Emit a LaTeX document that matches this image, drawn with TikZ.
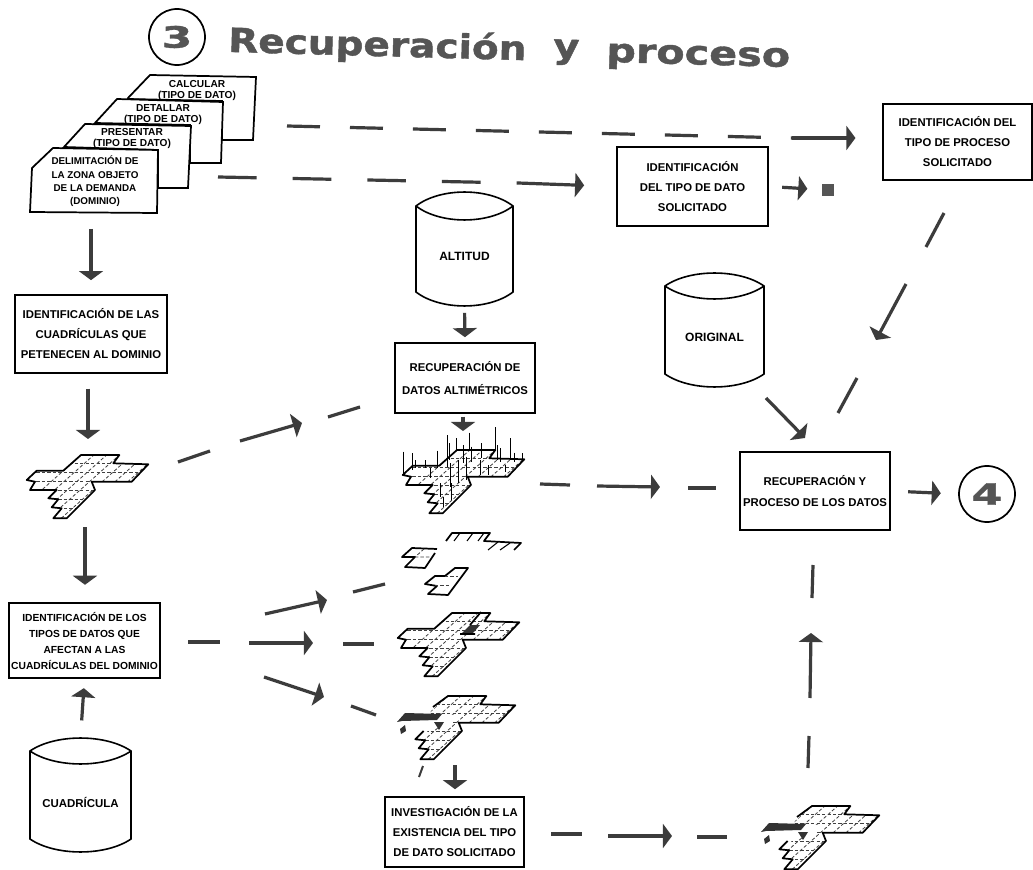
\documentclass[tikz,border=0pt]{standalone}
\usepackage{fontspec}
\setmainfont{Liberation Sans}
\newfontfamily\titlefont{DejaVu Sans}
\usetikzlibrary{arrows.meta,calc}
\def\px{0.75pt}
\definecolor{ink}{HTML}{3C3C3C}
\definecolor{titleink}{HTML}{555555}
\tikzset{
  arr/.style={line width=2.4pt,color=ink,-{Triangle[length=6.8pt,width=18pt]}},
  dashseg/.style={line width=2.4pt,color=ink},
  bx/.style={draw=black,line width=1.3pt,fill=white,inner sep=0pt,align=center,font={\fontsize{8.5}{15}\selectfont\bfseries}},
  cardshape/.style={draw=black,line width=1.3pt,fill=white},
  cardtext/.style={inner sep=0pt,align=center},
  cyl/.style={draw=black,line width=1.2pt,fill=white},
  cyltext/.style={inner sep=0pt,font={\fontsize{9}{10}\selectfont\bfseries}},
  gridline/.style={draw=black,line width=1.3pt,line join=round},
  gridin/.style={draw=black!75,line width=.6pt,dash pattern=on 2.5pt off 1.6pt},
  title/.style={inner sep=0pt,text=titleink,rotate=-1.6,font={\titlefont\bfseries\fontsize{25}{30}\selectfont\addfontfeatures{FakeBold=1.2}}},
  numc/.style={circle,draw=black,line width=1.3pt,minimum size=42pt,inner sep=0pt,text=titleink,font={\titlefont\bfseries\fontsize{22}{26}\selectfont\addfontfeatures{FakeBold=1.2}}}
}
\newcommand\boxnode[7][]{\node[bx,minimum width={(#5-#3)*\px},minimum height={(#6-#4)*\px},#1] (#2) at ({(#3+#5)/2},{(#4+#6)/2}) {#7};}
% cylinder: name, xl, xr, ytopcorner, bulge, ybottomcorner, label
\newcommand\cylnode[7]{%
 \draw[cyl] (#2,#4) .. controls ({#2+(#3-#2)*.25},{#4-(#5)*1.33}) and ({#3-(#3-#2)*.25},{#4-(#5)*1.33}) .. (#3,#4) -- (#3,#6) .. controls ({#3-(#3-#2)*.25},{#6+(#5)*1.33}) and ({#2+(#3-#2)*.25},{#6+(#5)*1.33}) .. (#2,#6) -- cycle;
 \draw[cyl,fill=none] (#2,#4) .. controls ({#2+(#3-#2)*.25},{#4+(#5)*1.33}) and ({#3-(#3-#2)*.25},{#4+(#5)*1.33}) .. (#3,#4);
 \node[cyltext,minimum width={(#3-#2)*\px},minimum height={(#6-#4+2*(#5))*\px}] (#1) at ({(#2+#3)/2},{(#4+#6)/2}) {\raisebox{-9pt}[0pt][0pt]{#7}};}
\def\outlinepts{(53.3,118.3) -- (61.7,108.3) -- (51.7,107.3) -- (58.3,99.3) -- (48.3,98.3) -- (56.7,90) -- (30,90) -- (35,81.7) -- (26.7,80) -- (36.7,70.7) -- (63.3,70.7) -- (81,55) -- (119.3,55) -- (113.3,63.3) -- (148.3,64.3) -- (131.7,81.7) -- (91.7,81.7) -- (95,90) -- (76.7,108.3) -- (66.7,118.3) -- cycle}
\newcommand\gridinner{%
 \begin{scope}
  \clip \outlinepts;
  \foreach \k in {0,...,13} {\draw[gridin] ({10+12.8*\k},118.3) -- ({81+12.8*\k},55);}
  \foreach \yy in {63.5,72,81.7,90,99,108} {\draw[gridin] (20,\yy) -- (150,\yy);}
 \end{scope}}
\newcommand\gridplain[3]{\begin{scope}[shift={(#1,#2)}]\gridinner\draw[gridline] \outlinepts;\node[inner sep=0pt,minimum width=90pt,minimum height=48pt] (#3) at (88,87) {};\end{scope}}
\newcommand\griddamaged[3]{\begin{scope}[shift={(#1,#2)}]
 \gridinner
 \fill[white] (22,68) -- (64,68) -- (60,92) -- (22,92) -- cycle;
 \fill[white] (62,74) -- (88,74) -- (84,86) -- (58,86) -- cycle;
 \draw[gridline] (66,66) -- (81,55) -- (119.3,55) -- (113.3,63.3) -- (148.3,64.3) -- (131.7,81.7) -- (91.7,81.7) -- (95,90) -- (76.7,108.3) -- (66.7,118.3) -- (53.3,118.3) -- (61.7,108.3) -- (51.7,107.3) -- (58.3,99.3) -- (48.3,98.3) -- (56.7,90);
 \fill[black!80] (30,81) -- (38,72) -- (75,73) -- (70,79) -- (35,80) -- cycle;
 \fill[black!80] (33,88) -- (38,84) -- (39,90) -- (34,93) -- cycle;
 \fill[black!80] (67,81) -- (77,81) -- (72,89) -- cycle;
 \node[inner sep=0pt,minimum width=90pt,minimum height=48pt] (#3) at (88,87) {};
 \end{scope}}
\begin{document}
\begin{tikzpicture}[x=\px,y=-\px]
\useasboundingbox[fill=white] (0,0) rectangle (1033,870);
% title
\node[numc] (three) at (177,37) {\scalebox{1.5}[1]{3}};
\node[title,anchor=west] (t1) at (228,42) {\scalebox{1.17}[1]{Recuperación}};
\node[title,anchor=west] (t2) at (553,52) {\scalebox{1.2}[1]{y}};
\node[title,anchor=west] (t3) at (606,56) {\scalebox{1.24}[1]{proceso}};
% stack of cards
\draw[cardshape] (128,98) -- (150,75) -- (256,77) -- (253,140) -- (222,140) -- (222,101) -- (128,99) -- cycle;
\node[cardtext,font={\fontsize{7.6}{8.2}\selectfont\bfseries}] (cardA) at (197,90.5) {CALCULAR\\(TIPO DE DATO)};
\draw[cardshape] (95,123) -- (117,99) -- (223,102) -- (221,163) -- (190,163) -- (190,125) -- (95,123) -- cycle;
\node[cardtext,font={\fontsize{7.6}{8.2}\selectfont\bfseries}] (cardB) at (163,114.5) {DETALLAR\\(TIPO DE DATO)};
\draw[cardshape] (64,147) -- (85,124) -- (191,126) -- (188,188) -- (158,188) -- (158,150) -- (64,147) -- cycle;
\node[cardtext,font={\fontsize{7.6}{8.2}\selectfont\bfseries}] (cardC) at (132,138.5) {PRESENTAR\\(TIPO DE DATO)};
\draw[cardshape] (30,212) -- (32,168) -- (53,148) -- (158,150) -- (157,213) -- cycle;
\node[cardtext,font={\fontsize{7.4}{10}\selectfont\bfseries}] (cardD) at (95,181.5) {DELIMITACIÓN DE\\LA ZONA OBJETO\\DE LA DEMANDA\\(DOMINIO)};
% boxes
\boxnode{boxA}{15}{295}{167}{373}{IDENTIFICACIÓN DE LAS\\CUADRÍCULAS QUE\\PETENECEN AL DOMINIO}
\boxnode[font={\fontsize{7.7}{12}\selectfont\bfseries}]{boxB}{9}{603}{160}{678}{IDENTIFICACIÓN DE LOS\\TIPOS DE DATOS QUE\\AFECTAN A LAS\\CUADRÍCULAS DEL DOMINIO}
\boxnode[font={\fontsize{8.5}{17}\selectfont\bfseries}]{boxC}{395}{343}{535}{413}{RECUPERACIÓN DE\\DATOS ALTIMÉTRICOS}
\boxnode{boxD}{385}{797}{524}{867}{INVESTIGACIÓN DE LA\\EXISTENCIA DEL TIPO\\DE DATO SOLICITADO}
\boxnode{boxE}{617}{147}{768}{226}{IDENTIFICACIÓN\\DEL TIPO DE DATO\\SOLICITADO}
\boxnode{boxF}{883}{104}{1032}{180}{IDENTIFICACIÓN DEL\\TIPO DE PROCESO\\SOLICITADO}
\boxnode[font={\fontsize{8.5}{16}\selectfont\bfseries}]{boxG}{740}{452}{890}{530}{RECUPERACIÓN Y\\PROCESO DE LOS DATOS}
\node[numc] (four) at (987,494) {\scalebox{1.5}[1]{4}};
\node[fill=titleink,inner sep=0pt,minimum size=9.5pt] (sq) at (828,190) {};
% cylinders
\cylnode{cylAlt}{416}{513}{206}{14}{292}{ALTITUD}
\cylnode{cylOri}{665}{764}{286}{13}{374}{ORIGINAL}
\cylnode{cylCua}{30}{131}{751}{13}{839}{\fontsize{8.6}{10}\selectfont CUADRÍCULA}
% grids
\gridplain{0}{400}{gA}
% 3D grid
\gridplain{376}{395}{gB}
\begin{scope}[shift={(360,400)}]
 \foreach \x/\a/\b in {130/155/225,157/160/210,195/180/205,233/152/205,262/105/200,268/130/180,290/115/150,327/98/150,365/130/175,405/82/150,412/135/180,422/145/185,450/115/180,462/158/185,487/160/185,310/135/190,335/140/185,360/180/225,270/190/260,295/180/250,320/170/240,240/250/290,275/250/300,250/290/320,385/195/225,435/195/215,210/205/235,165/180/205}
 {\draw[black,line width=.7pt] ({\x/3},{\a/3}) -- ({\x/3},{\b/3});}
\end{scope}
% fragments
\draw[gridline] (446,541) -- (452,533) -- (490,533) -- (484,541) -- (521,543) -- (514,550);
\draw[black,line width=.8pt] (460,533) -- (454,541) (473,533) -- (467,541) (484,533) -- (478,541) (498,542) -- (488,550) (510,543) -- (500,550);
\draw[gridline] (437,549) -- (412,548) -- (402,557) -- (415,557) -- (405,567) -- (425,568) -- (435,553);
\draw[gridin] (415,557) -- (432,557) (424,549) -- (415,557);
\draw[gridline] (425,584) -- (435,576) -- (445,576) -- (455,568) -- (468,568) -- (448,595) -- (428,594) -- (437,586) -- cycle;
\draw[gridin] (435,585) -- (450,585) (445,576) -- (458,576);
% grid with dark cell
\gridplain{371}{558}{gC}
\fill[black!80] (462,633) -- (470,625) -- (480,625) -- (473,633) -- cycle;
\draw[gridline] (460,634) -- (475,634) (470,625) -- (481,612);
% damaged grids
\griddamaged{367}{641}{gD}
\griddamaged{731}{751}{gE}
% connectors
% top dashed line
\coordinate (a1) at (287,126); \coordinate (a2) at (792,138);
\draw[dashseg,dash pattern=on 24.75pt off 22.5pt] (a1) -- (a2);
\draw[arr,shorten >=20pt] (a2) -- (a2 -| boxF.west);
% second dashed line
\coordinate (b1) at (218,177); \coordinate (b2) at (518,183);
\draw[dashseg,dash pattern=on 29pt off 27pt] (b1) -- (b2);
\draw[arr,shorten >=24pt] (b2) -- (boxE.west);
\draw[arr,shorten <=10pt,shorten >=15.5pt] (boxE.east) -- (sq.center);
% left column
\draw[arr,shorten <=12pt,shorten >=10.5pt] (boxA.north |- 0,213) -- (boxA.north);
\coordinate (c0) at (88,439);
\draw[arr,shorten <=11pt] (c0 |- boxA.south) -- (c0);
\coordinate (c1) at (85,527);
\draw[arr,shorten >=13pt] (c1) -- (c1 |- boxB.north);
\draw[arr,shorten <=13pt,shorten >=7pt] (cylCua.north) -- (boxB.south);
% grid A to box C
\coordinate (d1) at (178,462); \coordinate (d2) at (210,451); \coordinate (d3) at (240,441); \coordinate (d4) at (302,423); \coordinate (d5) at (328,417); \coordinate (d6) at (360,407);
\draw[dashseg] (d1) -- (d2); \draw[arr] (d3) -- (d4); \draw[dashseg] (d5) -- (d6);
% altitude
\draw[arr,shorten <=5pt,shorten >=3.7pt] (cylAlt.south) -- (boxC.north);
\coordinate (e1) at (463,431);
\draw[arr,shorten <=2pt] (e1 |- boxC.south) -- (e1);
% 3D grid to box G
\coordinate (f1) at (540,484); \coordinate (f2) at (570,485); \coordinate (f3) at (597,486); \coordinate (f4) at (660,487); \coordinate (f5) at (688,488); \coordinate (f6) at (716,488);
\draw[dashseg] (f1) -- (f2); \draw[arr] (f3) -- (f4); \draw[dashseg] (f5) -- (f6);
\draw[arr,shorten <=13pt,shorten >=13pt] (boxG.east) -- (four.west);
% original to box G
\coordinate (g1) at (766,398); \coordinate (g2) at (805,438);
\draw[arr] (g1) -- (g2);
% process to box G
\coordinate (h1) at (944,213); \coordinate (h2) at (926,247); \coordinate (h3) at (906,284); \coordinate (h4) at (876,340); \coordinate (h5) at (857,378); \coordinate (h6) at (838,413);
\draw[dashseg] (h1) -- (h2); \draw[arr] (h3) -- (h4); \draw[dashseg] (h5) -- (h6);
% tipo fan-out
\coordinate (i1) at (188,642); \coordinate (i2) at (220,642); \coordinate (i3) at (249,643); \coordinate (i4) at (313,643); \coordinate (i5) at (343,644); \coordinate (i6) at (374,644);
\draw[dashseg] (i1) -- (i2); \draw[arr] (i3) -- (i4); \draw[dashseg] (i5) -- (i6);
\coordinate (j3) at (265,614); \coordinate (j4) at (327,600); \coordinate (j5) at (353,592); \coordinate (j6) at (385,584);
\draw[arr] (j3) -- (j4); \draw[dashseg] (j5) -- (j6);
\coordinate (k3) at (264,677); \coordinate (k4) at (324,697); \coordinate (k5) at (351,706); \coordinate (k6) at (376,715);
\draw[arr] (k3) -- (k4); \draw[dashseg] (k5) -- (k6);
% grid D to investigation
\coordinate (l1) at (455,765);
\draw[arr,shorten >=5.2pt] (l1) -- (l1 |- boxD.north);
\coordinate (l2) at (423,766); \coordinate (l3) at (419,777);
\draw[dashseg,line width=1.5pt] (l2) -- (l3);
% investigation to grid E
\coordinate (m1) at (551,834); \coordinate (m2) at (582,834); \coordinate (m3) at (608,836); \coordinate (m4) at (672,836); \coordinate (m5) at (697,837); \coordinate (m6) at (727,837);
\draw[dashseg] (m1) -- (m2); \draw[arr] (m3) -- (m4); \draw[dashseg] (m5) -- (m6);
% grid E up to box G
\coordinate (n1) at (808,768); \coordinate (n2) at (809,736); \coordinate (n3) at (810,698); \coordinate (n4) at (811,633); \coordinate (n5) at (812,598); \coordinate (n6) at (813,565);
\draw[dashseg] (n1) -- (n2); \draw[arr] (n3) -- (n4); \draw[dashseg] (n5) -- (n6);
\end{tikzpicture}
\end{document}
